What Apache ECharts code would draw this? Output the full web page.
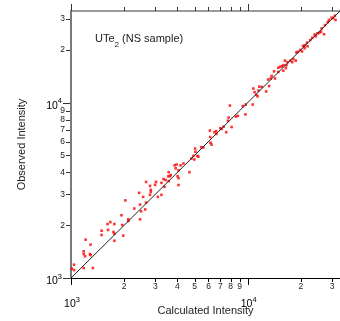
<!DOCTYPE html>
<html>
<head>
<meta charset="utf-8">
<script src="https://cdn.jsdelivr.net/npm/echarts@6/dist/echarts.min.js"></script>
<style>html,body{margin:0;padding:0;background:#fff}#c{width:340px;height:321px}</style>
</head>
<body>
<div id="c"></div>
<script>
const AX_MIN = 1000;
const AX_MAX = 33300;
const xTicks = [1000,2000,3000,4000,5000,6000,7000,8000,9000,10000,20000,30000];
const yTicks = [1000,2000,3000,4000,5000,6000,7000,8000,9000,10000,20000,30000];
const calculated = [
1010,1040,1040,1180,1180,1200,1210,1180,1280,1290,1290,1330,1490,1490,1610,1620,1670,1740,1760,1760,1760,1930,1950,1975,2030,2110,2110,2280,2430,2460,2460,2490,2560,2630,2660,2660,2800,2830,2830,2800,2990,3030,3100,3250,3250,3340,3380,3430,3555,
3570,3620,3570,3670,3860,3960,3910,4170,4060,4330,4010,4060,4060,4680,4800,4990,5260,
4930,5060,5040,5190,5460,5610,6110,6130,6160,6240,6480,6630,6650,7000,7130,7310,7560,7800,7730,8110,7930,8570,8800,9380,9750,9710,10670,10760,10940,11190,11520,11630,11370,12020,12720,13220,13050,13500,13670,14100,14280,14900,14900,15290,15630,15890,16240,15950,16580,16450,16800,17460,17850,18140,18710,18860,19200,19860,20290,20550,21000,21000,21830,21640,22580,23170,23890,24300,24830,25470,26010,26240,27030,27380,28350,28830,29850,30510,31140,31420
];
const observed = [
1130,1190,1110,1420,1370,1330,1655,1140,1370,1350,1550,1140,1860,1760,2030,1880,2085,1830,1790,1630,2030,2280,2005,1745,2770,2160,2110,2490,3060,2620,2160,2400,2900,2460,2690,3530,3350,3180,3100,2980,3400,3530,2900,2980,3485,3665,3310,3620,3800,
4010,3810,3570,3860,4390,4440,4220,4390,4110,4500,3810,3710,3390,4010,4800,4740,4920,
4970,5250,5470,4970,5570,5550,6930,6360,5910,5760,6780,6870,6630,7140,7080,7300,6780,8220,7880,7260,9620,8330,8400,9550,9750,8570,9750,12030,11470,11080,11730,12340,10860,12280,11580,12440,13550,13730,14210,15080,13730,15810,14960,16010,16160,15210,17360,16360,16360,15750,17010,17360,17010,17740,17360,19330,19480,19980,19580,21030,21220,20420,20950,21970,22710,23420,24440,23900,24850,24980,25400,26500,24540,27680,28760,29630,30510,30280,31300,29630
];
const fitLine = [[AX_MIN, AX_MIN],[AX_MAX, AX_MAX]];

const FONT = 'Liberation Sans, Arial, Helvetica, sans-serif';
const TXT = '#222';
function isMajor(v){ const l = Math.log10(v); return Math.abs(l - Math.round(l)) < 1e-9; }
function majorText(v){ return '{b|10}{s|' + Math.round(Math.log10(v)) + '}'; }
function minorText(v){ return String(Math.round(v / Math.pow(10, Math.floor(Math.log10(v))))); }
const richSup = {
  b: {fontSize: 10.5, fontFamily: FONT, color: TXT, lineHeight: 14, verticalAlign: 'bottom'},
  s: {fontSize: 7.5, fontFamily: FONT, color: TXT, lineHeight: 8, verticalAlign: 'top'}
};

const chart = echarts.init(document.getElementById('c'), null, {renderer: 'canvas'});
chart.setOption({
  animation: false,
  backgroundColor: '#fff',
  title: {
    text: '{a|UTe}{s|2}{a| (NS sample)}',
    left: 90, top: 28,
    textStyle: {
      fontWeight: 'normal',
      rich: {
        a: {fontSize: 11, fontFamily: FONT, fontWeight: 'normal', color: TXT, lineHeight: 16, verticalAlign: 'top'},
        s: {fontSize: 8, fontFamily: FONT, fontWeight: 'normal', color: TXT, lineHeight: 8, verticalAlign: 'bottom'}
      }
    }
  },
  grid: {left: 71, top: 11, width: 272.5, height: 273.3, containLabel: false},
  xAxis: [{
    type: 'log', logBase: 10, min: AX_MIN, max: AX_MAX, position: 'bottom',
    name: 'Calculated Intensity', nameLocation: 'middle', nameGap: 27,
    nameTextStyle: {fontSize: 11, fontFamily: FONT, color: TXT},
    axisLine: {show: true, lineStyle: {color: '#000', width: 1}},
    axisTick: {show: false}, axisLabel: {show: false}, splitLine: {show: false}, minorTick: {show: false}
  }, {
    type: 'log', logBase: 10, min: AX_MIN, max: AX_MAX, position: 'top', gridIndex: 0,
    axisLine: {show: true, lineStyle: {color: '#7a7a7a', width: 1.5}},
    axisTick: {show: false}, axisLabel: {show: false}, splitLine: {show: false}
  }],
  yAxis: {
    type: 'log', logBase: 10, min: AX_MIN, max: AX_MAX,
    name: 'Observed Intensity', nameLocation: 'middle', nameGap: 44,
    nameTextStyle: {fontSize: 11, fontFamily: FONT, color: TXT},
    axisLine: {show: true, onZero: false, lineStyle: {color: '#7a7a7a', width: 2}},
    axisTick: {show: false}, axisLabel: {show: false}, splitLine: {show: false}
  },
  series: [{
    type: 'scatter',
    data: calculated.map((c, i) => [c, observed[i]]),
    symbol: 'rect', symbolSize: 2.6,
    itemStyle: {color: '#ff0000'},
    z: 3
  }, {
    type: 'line',
    data: fitLine,
    symbol: 'none',
    lineStyle: {color: '#222', width: 1},
    z: 4
  }, {
    type: 'custom', clip: false, z: 5,
    data: xTicks.map(v => [v, AX_MIN]),
    renderItem: function(params, api) {
      const v = api.value(0);
      const pb = api.coord([v, AX_MIN]);
      const pt = api.coord([v, AX_MAX]);
      const major = isMajor(v);
      const len = major ? 7 : 4;
      const x = Math.round(pb[0]) + 0.5;
      const children = [
        {type: 'line', shape: {x1: x, y1: pb[1], x2: x, y2: pb[1] + len}, style: {stroke: '#000', lineWidth: 1}},
        {type: 'line', shape: {x1: x, y1: pt[1], x2: x, y2: pt[1] - len}, style: {stroke: '#333', lineWidth: 1}},
        major ?
          {type: 'text', x: pb[0] + 1, y: pb[1] + 24.5, style: {text: majorText(v), rich: richSup, align: 'center', verticalAlign: 'middle'}} :
          {type: 'text', x: pb[0], y: pb[1] + 9, style: {text: minorText(v), fill: TXT, fontSize: 8.5, fontFamily: FONT, align: 'center', verticalAlign: 'middle'}}
      ];
      return {type: 'group', children: children};
    }
  }, {
    type: 'custom', clip: false, z: 5,
    data: yTicks.map(v => [AX_MIN, v]),
    renderItem: function(params, api) {
      const v = api.value(1);
      const p = api.coord([AX_MIN, v]);
      const major = isMajor(v);
      const len = major ? 7 : 4;
      const y = Math.round(p[1]) + 0.5;
      const x0 = p[0] - 1;
      const children = [
        {type: 'line', shape: {x1: x0, y1: y, x2: x0 - len, y2: y}, style: {stroke: '#333', lineWidth: 1}},
        major ?
          {type: 'text', x: x0 - len - 1, y: p[1] + 1.5, style: {text: majorText(v), rich: richSup, align: 'right', verticalAlign: 'middle'}} :
          {type: 'text', x: x0 - len - 1, y: p[1], style: {text: minorText(v), fill: TXT, fontSize: 8.5, fontFamily: FONT, align: 'right', verticalAlign: 'middle'}}
      ];
      return {type: 'group', children: children};
    }
  }]
});
</script>
</body>
</html>
